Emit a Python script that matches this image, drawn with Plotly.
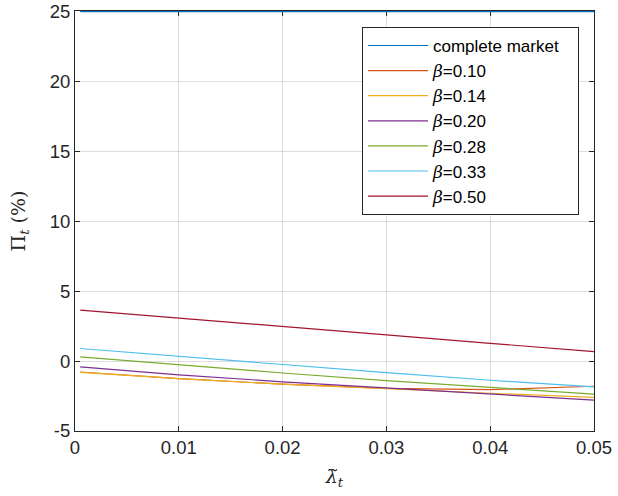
import plotly.graph_objects as go

lam = [0.0005, 0.01, 0.02, 0.03, 0.04, 0.05]
complete_market = [25, 25, 25, 25, 25, 25]
b010 = [-0.78, -1.25, -1.65, -1.95, -2.04, -1.80]
b014 = [-0.81, -1.25, -1.65, -2.00, -2.30, -2.60]
b020 = [-0.42, -0.98, -1.48, -1.93, -2.38, -2.79]
b028 = [0.30, -0.28, -0.85, -1.40, -1.90, -2.36]
b033 = [0.90, 0.33, -0.25, -0.83, -1.37, -1.85]
b050 = [3.65, 3.06, 2.46, 1.87, 1.27, 0.68]

series = [
    ("complete market", complete_market, "#0072BD"),
    ("β=0.10", b010, "#D95319"),
    ("β=0.14", b014, "#EDB120"),
    ("β=0.20", b020, "#7E2F8E"),
    ("β=0.28", b028, "#77AC30"),
    ("β=0.33", b033, "#4DBEEE"),
    ("β=0.50", b050, "#A2142F"),
]

def label(name):
    if name.startswith("β"):
        return '<span style="font-family:DejaVu Serif"><i>β</i></span>' + name[1:]
    return name + "\u00a0\u00a0\u00a0"

fig = go.Figure()
for name, ys, col in series:
    fig.add_trace(go.Scatter(x=lam, y=ys, mode="lines", name=label(name),
                             line=dict(color=col, width=1.2)))

axis_common = dict(
    showgrid=True, gridcolor="rgba(0,0,0,0.13)", gridwidth=1,
    showline=True, linecolor="#262626", linewidth=1, mirror="ticks",
    ticks="inside", ticklen=5, tickcolor="#262626",
    tickfont=dict(family="Liberation Sans, Arial", size=18.5, color="#262626"),
    zeroline=False, automargin=False, layer="below traces",
)

fig.update_layout(
    width=618, height=496,
    margin=dict(l=75, r=24, t=11, b=65),
    paper_bgcolor="white", plot_bgcolor="white",
    xaxis=dict(range=[0, 0.05], tickvals=[0, 0.01, 0.02, 0.03, 0.04, 0.05],
               ticktext=["0", "0.01", "0.02", "0.03", "0.04", "0.05"],
               title=dict(text="<i>λ̃</i><sub><i>t</i></sub>",
                          font=dict(family="DejaVu Serif", size=19, color="#262626"),
                          standoff=12),
               **axis_common),
    yaxis=dict(range=[-5, 25.04], tickvals=[-5, 0, 5, 10, 15, 20, 25],
               ticktext=["-5", "0", "5", "10", "15", "20", "25"],
               title=dict(text="Π<sub><i>t</i></sub> (%)",
                          font=dict(family="DejaVu Serif", size=19, color="#262626"),
                          standoff=19),
               **axis_common),
    legend=dict(x=0.553, y=0.962, xanchor="left", yanchor="top",
                bgcolor="white", bordercolor="#262626", borderwidth=1,
                font=dict(family="Liberation Sans, Arial", size=17, color="#000000"),
                tracegroupgap=0, itemwidth=60),
    showlegend=True,
)

fig.write_html("out.html", config={"displayModeBar": False},
               post_script="document.body.style.margin='0';")
